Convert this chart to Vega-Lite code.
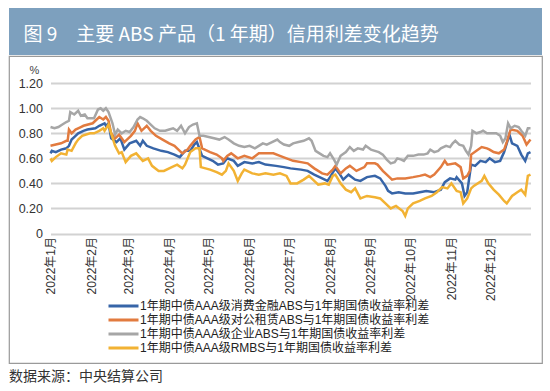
{
  "$schema": "https://vega.github.io/schema/vega-lite/v6.json",
  "background": "white",
  "padding": {"left": 8, "top": 8, "right": 8, "bottom": 0},
  "spacing": 0,
  "config": {"view": {"stroke": null}, "font": "Liberation Sans, Noto Sans CJK SC"},
  "vconcat": [
    {
      "width": 533,
      "height": 47,
      "view": {"fill": "#7DA0BE", "stroke": null},
      "data": {"values": [{"t": "图 9　主要 ABS 产品（1 年期）信用利差变化趋势"}]},
      "mark": {"type": "text", "align": "left", "baseline": "middle", "dx": -252, "dy": 3, "fontSize": 19, "color": "#FFFFFF", "font": "Noto Sans CJK SC"},
      "encoding": {"text": {"field": "t"}}
    },
    {
      "width": 533,
      "height": 307,
      "view": {"stroke": "#9A9A9A", "strokeWidth": 1.2},
      "title": {"text": "数据来源：中央结算公司", "orient": "bottom", "anchor": "start", "frame": "group", "fontSize": 14, "fontWeight": "normal", "color": "#333333", "offset": 7, "font": "Noto Sans CJK SC"},
      "layer": [
        {
          "data": {"values": [{"d":"2022-01-01","v":0.64},{"d":"2022-01-02","v":0.66},{"d":"2022-01-05","v":0.65},{"d":"2022-01-09","v":0.67},{"d":"2022-01-13","v":0.68},{"d":"2022-01-15","v":0.70},{"d":"2022-01-17","v":0.75},{"d":"2022-01-20","v":0.78},{"d":"2022-01-22","v":0.80},{"d":"2022-01-26","v":0.82},{"d":"2022-01-29","v":0.83},{"d":"2022-02-04","v":0.84},{"d":"2022-02-07","v":0.86},{"d":"2022-02-11","v":0.88},{"d":"2022-02-12","v":0.86},{"d":"2022-02-14","v":0.88},{"d":"2022-02-16","v":0.76},{"d":"2022-02-20","v":0.73},{"d":"2022-02-23","v":0.76},{"d":"2022-02-26","v":0.67},{"d":"2022-03-02","v":0.72},{"d":"2022-03-07","v":0.74},{"d":"2022-03-10","v":0.70},{"d":"2022-03-12","v":0.74},{"d":"2022-03-15","v":0.70},{"d":"2022-03-20","v":0.68},{"d":"2022-03-26","v":0.66},{"d":"2022-03-31","v":0.65},{"d":"2022-04-05","v":0.63},{"d":"2022-04-09","v":0.61},{"d":"2022-04-13","v":0.66},{"d":"2022-04-17","v":0.66},{"d":"2022-04-20","v":0.71},{"d":"2022-04-22","v":0.73},{"d":"2022-04-26","v":0.62},{"d":"2022-04-30","v":0.60},{"d":"2022-05-04","v":0.58},{"d":"2022-05-08","v":0.55},{"d":"2022-05-12","v":0.56},{"d":"2022-05-15","v":0.60},{"d":"2022-05-20","v":0.58},{"d":"2022-05-23","v":0.54},{"d":"2022-05-28","v":0.57},{"d":"2022-06-03","v":0.56},{"d":"2022-06-08","v":0.57},{"d":"2022-06-13","v":0.55},{"d":"2022-06-21","v":0.54},{"d":"2022-06-27","v":0.53},{"d":"2022-07-02","v":0.52},{"d":"2022-07-10","v":0.51},{"d":"2022-07-15","v":0.50},{"d":"2022-07-20","v":0.47},{"d":"2022-07-26","v":0.44},{"d":"2022-07-30","v":0.42},{"d":"2022-08-01","v":0.45},{"d":"2022-08-05","v":0.52},{"d":"2022-08-08","v":0.48},{"d":"2022-08-11","v":0.43},{"d":"2022-08-15","v":0.47},{"d":"2022-08-20","v":0.43},{"d":"2022-08-24","v":0.42},{"d":"2022-08-29","v":0.45},{"d":"2022-09-04","v":0.46},{"d":"2022-09-08","v":0.44},{"d":"2022-09-12","v":0.38},{"d":"2022-09-14","v":0.34},{"d":"2022-09-17","v":0.32},{"d":"2022-09-22","v":0.33},{"d":"2022-09-27","v":0.32},{"d":"2022-10-03","v":0.32},{"d":"2022-10-08","v":0.33},{"d":"2022-10-13","v":0.34},{"d":"2022-10-19","v":0.33},{"d":"2022-10-24","v":0.35},{"d":"2022-10-27","v":0.41},{"d":"2022-10-31","v":0.44},{"d":"2022-11-04","v":0.43},{"d":"2022-11-05","v":0.45},{"d":"2022-11-09","v":0.40},{"d":"2022-11-11","v":0.30},{"d":"2022-11-13","v":0.33},{"d":"2022-11-16","v":0.55},{"d":"2022-11-19","v":0.54},{"d":"2022-11-23","v":0.58},{"d":"2022-11-27","v":0.57},{"d":"2022-11-30","v":0.60},{"d":"2022-12-04","v":0.57},{"d":"2022-12-08","v":0.58},{"d":"2022-12-11","v":0.65},{"d":"2022-12-13","v":0.72},{"d":"2022-12-15","v":0.79},{"d":"2022-12-17","v":0.72},{"d":"2022-12-21","v":0.70},{"d":"2022-12-24","v":0.63},{"d":"2022-12-27","v":0.58},{"d":"2022-12-29","v":0.64},{"d":"2022-12-31","v":0.65}]},
          "mark": {"type": "line", "strokeWidth": 2.5},
          "encoding": {
            "x": {
              "field": "d", "type": "temporal",
              "scale": {"type": "utc", "domain": [{"year": 2022, "month": 1, "date": 1, "utc": true}, {"year": 2022, "month": 12, "date": 31, "utc": true}], "range": [41.5, 521.5]},
              "axis": {
                "title": null, "labelExpr": "utcFormat(datum.value, '%Y年%-m月')", "labelAngle": 270,
                "values": [{"year":2022,"month":1,"date":1,"utc":true},{"year":2022,"month":2,"date":1,"utc":true},{"year":2022,"month":3,"date":1,"utc":true},{"year":2022,"month":4,"date":1,"utc":true},{"year":2022,"month":5,"date":1,"utc":true},{"year":2022,"month":6,"date":1,"utc":true},{"year":2022,"month":7,"date":1,"utc":true},{"year":2022,"month":8,"date":1,"utc":true},{"year":2022,"month":9,"date":1,"utc":true},{"year":2022,"month":10,"date":1,"utc":true},{"year":2022,"month":11,"date":1,"utc":true},{"year":2022,"month":12,"date":1,"utc":true}],
                "offset": -129.5, "domain": false, "ticks": false, "tickSize": 0, "grid": false,
                "labelFontSize": 12, "labelColor": "#333333", "labelPadding": 3, "labelOverlap": false, "labelFlush": false, "labelBound": false
              }
            },
            "y": {
              "field": "v", "type": "quantitative",
              "scale": {"domain": [0, 1.2], "range": [177.5, 27.2], "nice": false, "zero": true},
              "axis": {
                "values": [0, 0.2, 0.4, 0.6, 0.8, 1.0, 1.2],
                "labelExpr": "datum.value == 0 ? '0' : format(datum.value, '.2f')",
                "offset": -41.5, "domain": false, "ticks": false, "tickSize": 0,
                "labelFontSize": 12.5, "labelColor": "#333333", "labelPadding": 8,
                "grid": true, "gridColor": "#D2D2D2", "gridWidth": 1.8,
                "title": "%", "titleAngle": 0, "titleAlign": "center", "titleBaseline": "middle",
                "titleX": -16.5, "titleY": 14, "titleFontSize": 11, "titleFontWeight": "normal", "titleColor": "#444444"
              }
            },
            "color": {
              "datum": "1年期中债AAA级消费金融ABS与1年期国债收益率利差", "type": "nominal",
              "scale": {
                "domain": ["1年期中债AAA级消费金融ABS与1年期国债收益率利差", "1年期中债AAA级对公租赁ABS与1年期国债收益率利差", "1年期中债AAA级企业ABS与1年期国债收益率利差", "1年期中债AAA级RMBS与1年期国债收益率利差"],
                "range": ["#3765A8", "#E27B3F", "#A6A6A6", "#F2B233"]
              },
              "legend": {
                "orient": "none", "legendX": 98, "legendY": 291, "direction": "vertical", "title": null,
                "symbolType": "stroke", "symbolSize": 900, "symbolStrokeWidth": 3,
                "labelFontSize": 12, "labelColor": "#222222", "labelOffset": 0, "labelLimit": 400,
                "padding": 0, "rowPadding": 0, "clipHeight": 14
              }
            }
          }
        },
        {
          "data": {"values": [{"d":"2022-01-01","v":0.70},{"d":"2022-01-05","v":0.71},{"d":"2022-01-09","v":0.72},{"d":"2022-01-13","v":0.74},{"d":"2022-01-14","v":0.74},{"d":"2022-01-15","v":0.83},{"d":"2022-01-17","v":0.80},{"d":"2022-01-20","v":0.83},{"d":"2022-01-24","v":0.85},{"d":"2022-01-26","v":0.86},{"d":"2022-02-02","v":0.88},{"d":"2022-02-04","v":0.90},{"d":"2022-02-07","v":0.93},{"d":"2022-02-10","v":0.91},{"d":"2022-02-12","v":0.93},{"d":"2022-02-14","v":0.90},{"d":"2022-02-16","v":0.80},{"d":"2022-02-19","v":0.76},{"d":"2022-02-22","v":0.79},{"d":"2022-02-26","v":0.73},{"d":"2022-02-28","v":0.75},{"d":"2022-03-03","v":0.78},{"d":"2022-03-06","v":0.82},{"d":"2022-03-08","v":0.88},{"d":"2022-03-11","v":0.82},{"d":"2022-03-15","v":0.86},{"d":"2022-03-18","v":0.82},{"d":"2022-03-22","v":0.78},{"d":"2022-03-27","v":0.75},{"d":"2022-04-01","v":0.72},{"d":"2022-04-05","v":0.70},{"d":"2022-04-08","v":0.67},{"d":"2022-04-11","v":0.64},{"d":"2022-04-15","v":0.67},{"d":"2022-04-17","v":0.70},{"d":"2022-04-21","v":0.75},{"d":"2022-04-24","v":0.77},{"d":"2022-04-26","v":0.68},{"d":"2022-05-02","v":0.65},{"d":"2022-05-07","v":0.63},{"d":"2022-05-11","v":0.60},{"d":"2022-05-12","v":0.58},{"d":"2022-05-15","v":0.62},{"d":"2022-05-18","v":0.64},{"d":"2022-05-23","v":0.60},{"d":"2022-05-28","v":0.62},{"d":"2022-06-03","v":0.60},{"d":"2022-06-08","v":0.64},{"d":"2022-06-13","v":0.64},{"d":"2022-06-19","v":0.64},{"d":"2022-06-24","v":0.62},{"d":"2022-06-29","v":0.60},{"d":"2022-07-04","v":0.58},{"d":"2022-07-10","v":0.57},{"d":"2022-07-15","v":0.56},{"d":"2022-07-20","v":0.52},{"d":"2022-07-26","v":0.48},{"d":"2022-07-30","v":0.47},{"d":"2022-08-03","v":0.51},{"d":"2022-08-05","v":0.54},{"d":"2022-08-09","v":0.48},{"d":"2022-08-13","v":0.52},{"d":"2022-08-16","v":0.54},{"d":"2022-08-21","v":0.50},{"d":"2022-08-27","v":0.53},{"d":"2022-08-29","v":0.56},{"d":"2022-09-04","v":0.56},{"d":"2022-09-06","v":0.55},{"d":"2022-09-10","v":0.50},{"d":"2022-09-14","v":0.46},{"d":"2022-09-17","v":0.43},{"d":"2022-09-21","v":0.44},{"d":"2022-09-27","v":0.44},{"d":"2022-10-03","v":0.45},{"d":"2022-10-08","v":0.46},{"d":"2022-10-12","v":0.47},{"d":"2022-10-16","v":0.45},{"d":"2022-10-19","v":0.47},{"d":"2022-10-24","v":0.53},{"d":"2022-10-27","v":0.58},{"d":"2022-10-29","v":0.55},{"d":"2022-11-04","v":0.56},{"d":"2022-11-08","v":0.53},{"d":"2022-11-10","v":0.44},{"d":"2022-11-13","v":0.46},{"d":"2022-11-15","v":0.50},{"d":"2022-11-16","v":0.63},{"d":"2022-11-20","v":0.66},{"d":"2022-11-24","v":0.69},{"d":"2022-11-28","v":0.68},{"d":"2022-11-30","v":0.67},{"d":"2022-12-03","v":0.65},{"d":"2022-12-07","v":0.64},{"d":"2022-12-11","v":0.67},{"d":"2022-12-13","v":0.73},{"d":"2022-12-15","v":0.80},{"d":"2022-12-16","v":0.83},{"d":"2022-12-21","v":0.82},{"d":"2022-12-25","v":0.78},{"d":"2022-12-28","v":0.71},{"d":"2022-12-31","v":0.75}]},
          "mark": {"type": "line", "strokeWidth": 2.5},
          "encoding": {
            "x": {"field": "d", "type": "temporal"},
            "y": {"field": "v", "type": "quantitative"},
            "color": {"datum": "1年期中债AAA级对公租赁ABS与1年期国债收益率利差", "type": "nominal"}
          }
        },
        {
          "data": {"values": [{"d":"2022-01-01","v":0.85},{"d":"2022-01-04","v":0.84},{"d":"2022-01-07","v":0.85},{"d":"2022-01-10","v":0.87},{"d":"2022-01-13","v":0.89},{"d":"2022-01-15","v":0.90},{"d":"2022-01-16","v":0.97},{"d":"2022-01-19","v":0.95},{"d":"2022-01-22","v":0.98},{"d":"2022-01-24","v":0.94},{"d":"2022-01-27","v":0.95},{"d":"2022-01-29","v":0.92},{"d":"2022-02-03","v":0.92},{"d":"2022-02-06","v":0.99},{"d":"2022-02-08","v":1.00},{"d":"2022-02-10","v":0.98},{"d":"2022-02-12","v":1.00},{"d":"2022-02-14","v":0.97},{"d":"2022-02-17","v":0.88},{"d":"2022-02-19","v":0.79},{"d":"2022-02-21","v":0.83},{"d":"2022-02-24","v":0.80},{"d":"2022-02-27","v":0.82},{"d":"2022-03-02","v":0.81},{"d":"2022-03-05","v":0.85},{"d":"2022-03-08","v":0.91},{"d":"2022-03-10","v":0.93},{"d":"2022-03-12","v":0.92},{"d":"2022-03-15","v":0.90},{"d":"2022-03-18","v":0.87},{"d":"2022-03-21","v":0.84},{"d":"2022-03-25","v":0.82},{"d":"2022-03-29","v":0.82},{"d":"2022-04-01","v":0.83},{"d":"2022-04-04","v":0.84},{"d":"2022-04-07","v":0.82},{"d":"2022-04-10","v":0.86},{"d":"2022-04-13","v":0.80},{"d":"2022-04-16","v":0.85},{"d":"2022-04-19","v":0.87},{"d":"2022-04-22","v":0.88},{"d":"2022-04-24","v":0.78},{"d":"2022-04-27","v":0.78},{"d":"2022-05-01","v":0.77},{"d":"2022-05-05","v":0.76},{"d":"2022-05-09","v":0.75},{"d":"2022-05-13","v":0.77},{"d":"2022-05-16","v":0.75},{"d":"2022-05-20","v":0.72},{"d":"2022-05-24","v":0.70},{"d":"2022-05-28","v":0.69},{"d":"2022-06-01","v":0.70},{"d":"2022-06-05","v":0.68},{"d":"2022-06-08","v":0.70},{"d":"2022-06-11","v":0.72},{"d":"2022-06-14","v":0.71},{"d":"2022-06-18","v":0.73},{"d":"2022-06-22","v":0.75},{"d":"2022-06-24","v":0.73},{"d":"2022-06-27","v":0.71},{"d":"2022-07-01","v":0.70},{"d":"2022-07-04","v":0.72},{"d":"2022-07-08","v":0.73},{"d":"2022-07-12","v":0.74},{"d":"2022-07-16","v":0.76},{"d":"2022-07-18","v":0.74},{"d":"2022-07-21","v":0.66},{"d":"2022-07-24","v":0.64},{"d":"2022-07-27","v":0.62},{"d":"2022-07-30","v":0.61},{"d":"2022-08-01","v":0.64},{"d":"2022-08-04","v":0.59},{"d":"2022-08-06","v":0.55},{"d":"2022-08-09","v":0.62},{"d":"2022-08-13","v":0.65},{"d":"2022-08-16","v":0.69},{"d":"2022-08-19","v":0.66},{"d":"2022-08-22","v":0.68},{"d":"2022-08-26","v":0.67},{"d":"2022-08-28","v":0.70},{"d":"2022-09-01","v":0.67},{"d":"2022-09-04","v":0.66},{"d":"2022-09-07","v":0.65},{"d":"2022-09-10","v":0.63},{"d":"2022-09-13","v":0.59},{"d":"2022-09-16","v":0.56},{"d":"2022-09-19","v":0.57},{"d":"2022-09-21","v":0.60},{"d":"2022-09-24","v":0.59},{"d":"2022-09-26","v":0.58},{"d":"2022-09-29","v":0.62},{"d":"2022-10-03","v":0.62},{"d":"2022-10-07","v":0.63},{"d":"2022-10-11","v":0.63},{"d":"2022-10-14","v":0.64},{"d":"2022-10-16","v":0.67},{"d":"2022-10-19","v":0.65},{"d":"2022-10-22","v":0.66},{"d":"2022-10-24","v":0.68},{"d":"2022-10-28","v":0.70},{"d":"2022-10-31","v":0.69},{"d":"2022-11-02","v":0.72},{"d":"2022-11-04","v":0.74},{"d":"2022-11-07","v":0.71},{"d":"2022-11-10","v":0.70},{"d":"2022-11-12","v":0.66},{"d":"2022-11-14","v":0.63},{"d":"2022-11-16","v":0.70},{"d":"2022-11-17","v":0.82},{"d":"2022-11-20","v":0.80},{"d":"2022-11-23","v":0.81},{"d":"2022-11-25","v":0.82},{"d":"2022-11-28","v":0.80},{"d":"2022-12-01","v":0.80},{"d":"2022-12-05","v":0.80},{"d":"2022-12-08","v":0.78},{"d":"2022-12-10","v":0.73},{"d":"2022-12-12","v":0.76},{"d":"2022-12-14","v":0.88},{"d":"2022-12-16","v":0.84},{"d":"2022-12-19","v":0.86},{"d":"2022-12-22","v":0.85},{"d":"2022-12-24","v":0.82},{"d":"2022-12-27","v":0.78},{"d":"2022-12-29","v":0.84},{"d":"2022-12-31","v":0.84}]},
          "mark": {"type": "line", "strokeWidth": 2.5},
          "encoding": {
            "x": {"field": "d", "type": "temporal"},
            "y": {"field": "v", "type": "quantitative"},
            "color": {"datum": "1年期中债AAA级企业ABS与1年期国债收益率利差", "type": "nominal"}
          }
        },
        {
          "data": {"values": [{"d":"2022-01-01","v":0.60},{"d":"2022-01-02","v":0.58},{"d":"2022-01-05","v":0.61},{"d":"2022-01-09","v":0.64},{"d":"2022-01-13","v":0.63},{"d":"2022-01-14","v":0.67},{"d":"2022-01-17","v":0.66},{"d":"2022-01-20","v":0.72},{"d":"2022-01-22","v":0.75},{"d":"2022-01-25","v":0.78},{"d":"2022-01-31","v":0.80},{"d":"2022-02-03","v":0.80},{"d":"2022-02-07","v":0.82},{"d":"2022-02-10","v":0.84},{"d":"2022-02-11","v":0.82},{"d":"2022-02-14","v":0.87},{"d":"2022-02-16","v":0.80},{"d":"2022-02-19","v":0.70},{"d":"2022-02-22","v":0.64},{"d":"2022-02-24","v":0.65},{"d":"2022-02-27","v":0.57},{"d":"2022-03-03","v":0.62},{"d":"2022-03-07","v":0.64},{"d":"2022-03-12","v":0.58},{"d":"2022-03-16","v":0.60},{"d":"2022-03-19","v":0.54},{"d":"2022-03-24","v":0.50},{"d":"2022-03-28","v":0.50},{"d":"2022-04-03","v":0.53},{"d":"2022-04-07","v":0.55},{"d":"2022-04-11","v":0.52},{"d":"2022-04-13","v":0.55},{"d":"2022-04-17","v":0.65},{"d":"2022-04-21","v":0.68},{"d":"2022-04-24","v":0.68},{"d":"2022-04-25","v":0.53},{"d":"2022-05-02","v":0.51},{"d":"2022-05-07","v":0.49},{"d":"2022-05-11","v":0.47},{"d":"2022-05-14","v":0.50},{"d":"2022-05-16","v":0.56},{"d":"2022-05-20","v":0.50},{"d":"2022-05-23","v":0.42},{"d":"2022-05-26","v":0.48},{"d":"2022-05-28","v":0.51},{"d":"2022-06-03","v":0.48},{"d":"2022-06-08","v":0.47},{"d":"2022-06-13","v":0.48},{"d":"2022-06-19","v":0.47},{"d":"2022-06-24","v":0.48},{"d":"2022-06-29","v":0.46},{"d":"2022-07-02","v":0.40},{"d":"2022-07-07","v":0.40},{"d":"2022-07-12","v":0.43},{"d":"2022-07-16","v":0.46},{"d":"2022-07-20","v":0.42},{"d":"2022-07-23","v":0.39},{"d":"2022-07-28","v":0.40},{"d":"2022-07-31","v":0.39},{"d":"2022-08-03","v":0.46},{"d":"2022-08-05","v":0.47},{"d":"2022-08-09","v":0.40},{"d":"2022-08-13","v":0.35},{"d":"2022-08-17","v":0.33},{"d":"2022-08-20","v":0.36},{"d":"2022-08-24","v":0.28},{"d":"2022-08-29","v":0.30},{"d":"2022-09-04","v":0.29},{"d":"2022-09-08","v":0.28},{"d":"2022-09-12","v":0.24},{"d":"2022-09-16","v":0.20},{"d":"2022-09-20","v":0.22},{"d":"2022-09-25","v":0.18},{"d":"2022-09-27","v":0.14},{"d":"2022-09-29","v":0.20},{"d":"2022-10-03","v":0.24},{"d":"2022-10-08","v":0.26},{"d":"2022-10-12","v":0.28},{"d":"2022-10-17","v":0.30},{"d":"2022-10-21","v":0.33},{"d":"2022-10-25","v":0.37},{"d":"2022-10-29","v":0.36},{"d":"2022-11-01","v":0.40},{"d":"2022-11-05","v":0.34},{"d":"2022-11-08","v":0.33},{"d":"2022-11-10","v":0.24},{"d":"2022-11-13","v":0.28},{"d":"2022-11-16","v":0.36},{"d":"2022-11-18","v":0.38},{"d":"2022-11-24","v":0.42},{"d":"2022-11-26","v":0.46},{"d":"2022-11-29","v":0.40},{"d":"2022-12-03","v":0.35},{"d":"2022-12-07","v":0.31},{"d":"2022-12-11","v":0.26},{"d":"2022-12-13","v":0.24},{"d":"2022-12-17","v":0.30},{"d":"2022-12-21","v":0.33},{"d":"2022-12-24","v":0.35},{"d":"2022-12-27","v":0.31},{"d":"2022-12-29","v":0.46},{"d":"2022-12-31","v":0.47}]},
          "mark": {"type": "line", "strokeWidth": 2.5},
          "encoding": {
            "x": {"field": "d", "type": "temporal"},
            "y": {"field": "v", "type": "quantitative"},
            "color": {"datum": "1年期中债AAA级RMBS与1年期国债收益率利差", "type": "nominal"}
          }
        }
      ]
    }
  ]
}
